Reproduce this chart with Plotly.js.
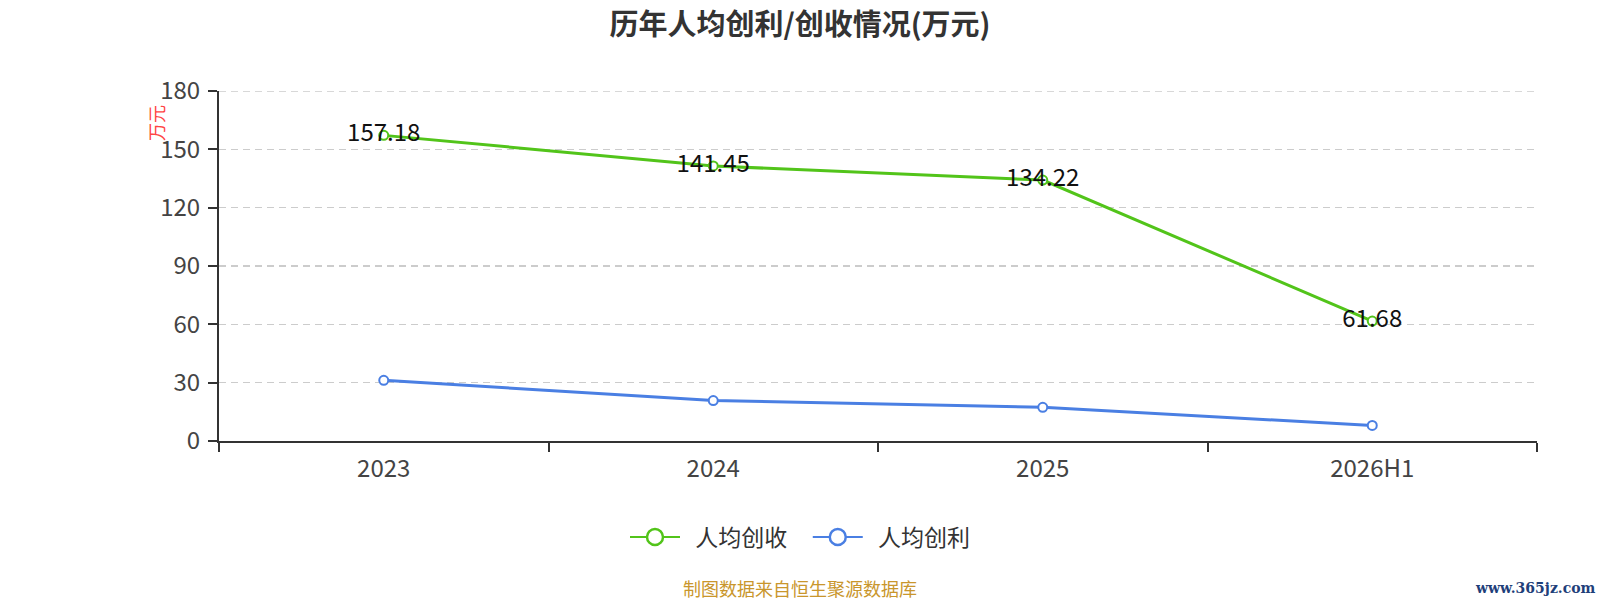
<!DOCTYPE html>
<html>
<head>
<meta charset="utf-8">
<script src="https://cdn.plot.ly/plotly-3.0.1.min.js"></script>
<style>html,body{margin:0;padding:0;background:#fff;}#chart{width:1600px;height:600px;}</style>
</head>
<body>
<div id="chart"></div>
<script>
const categories = ['2023', '2024', '2025', '2026H1'];
const revenuePerCapita = [157.18, 141.45, 134.22, 61.68];
const profitPerCapita = [31.2, 20.8, 17.3, 8.0];
const yTicks = [0, 30, 60, 90, 120, 150, 180];
const seriesNames = ['人均创收', '人均创利'];
const seriesColors = ['#52c41a', '#4a7fe3'];

const FONT = '"Noto Sans CJK SC", "Noto Sans", sans-serif';
const NB = '\u00a0';

const traces = [
  {
    x: categories, y: revenuePerCapita, name: seriesNames[0], type: 'scatter', mode: 'lines+markers+text',
    showlegend: false, legendgroup: 'a',
    line: {color: seriesColors[0], width: 3},
    marker: {symbol: 'circle', size: 9, color: '#ffffff', line: {color: seriesColors[0], width: 2}},
    text: revenuePerCapita.map(v => v.toFixed(2)), textposition: 'middle center',
    textfont: {family: FONT, size: 24, color: '#111111'}, cliponaxis: false
  },
  {
    x: categories, y: profitPerCapita, name: seriesNames[1], type: 'scatter', mode: 'lines+markers',
    showlegend: false, legendgroup: 'b',
    line: {color: seriesColors[1], width: 3},
    marker: {symbol: 'circle', size: 9, color: '#ffffff', line: {color: seriesColors[1], width: 2}},
    cliponaxis: false
  }
];
// legend entries (no visible points)
seriesNames.forEach((n, i) => {
  traces.push({
    x: [null], y: [null], name: NB + NB + n + NB + NB + NB, type: 'scatter', mode: 'lines+markers', showlegend: true,
    legendgroup: i === 0 ? 'a' : 'b',
    line: {color: seriesColors[i], width: 2},
    marker: {symbol: 'circle', size: 19, color: '#ffffff', line: {color: seriesColors[i], width: 2.5}}
  });
});

const layout = {
  width: 1600, height: 600,
  margin: {l: 219, r: 63, t: 91, b: 159},
  paper_bgcolor: '#ffffff', plot_bgcolor: '#ffffff',
  font: {family: FONT, color: '#333333'},
  title: {text: '<b>历年人均创利/创收情况(万元)</b>', x: 0.5, xref: 'container', xanchor: 'center',
          y: 0.958, yref: 'container', yanchor: 'middle',
          font: {family: FONT, size: 29, color: '#333333'}},
  xaxis: {
    type: 'category', range: [-0.5, 3.5], showgrid: false, zeroline: false,
    showline: true, linecolor: '#333333', linewidth: 2,
    ticks: 'outside', tickson: 'boundaries', ticklen: 9, tickwidth: 2, tickcolor: '#333333',
    tickfont: {family: FONT, size: 24, color: '#444444'}, ticklabelstandoff: 5
  },
  yaxis: {
    range: [0, 180], tickvals: yTicks, ticktext: yTicks.map(String),
    showline: true, linecolor: '#333333', linewidth: 2,
    ticks: 'outside', ticklen: 9, tickwidth: 2, tickcolor: '#333333',
    showgrid: true, gridcolor: '#cccccc', griddash: '7px,5px', gridwidth: 1.5, zeroline: false,
    tickfont: {family: FONT, size: 24, color: '#444444'}, ticklabelstandoff: 3
  },
  shapes: [
    {type: 'line', xref: 'paper', yref: 'y', x0: 0, x1: 1, y0: yTicks[yTicks.length - 1], y1: yTicks[yTicks.length - 1],
     line: {color: '#cccccc', width: 1.5, dash: '7px,5px'}, layer: 'below'}
  ],
  showlegend: true,
  legend: {orientation: 'h', xref: 'container', x: 0.505, xanchor: 'center',
           yref: 'container', y: 0.105, yanchor: 'middle', itemwidth: 50, itemsizing: 'trace',
           font: {family: FONT, size: 23, color: '#333333'}},
  annotations: [
    {text: '万元', xref: 'paper', yref: 'paper', x: -0.0478, y: 0.9086, textangle: -90,
     showarrow: false, font: {family: FONT, size: 18, color: '#ff4444'}, xanchor: 'center', yanchor: 'middle'},
    {text: '制图数据来自恒生聚源数据库', xref: 'paper', yref: 'paper', x: 0.4408, y: -0.42,
     showarrow: false, font: {family: FONT, size: 18, color: '#c9962c'}, xanchor: 'center', yanchor: 'middle'},
    {text: '<b>www.365jz.com</b>', xref: 'paper', yref: 'paper', x: 1.046, y: -0.42,
     showarrow: false, font: {family: '"DejaVu Serif", serif', size: 14, color: '#1f3f7a'}, xanchor: 'right', yanchor: 'middle'}
  ]
};

Plotly.newPlot('chart', traces, layout, {displayModeBar: false, staticPlot: true});
</script>
</body>
</html>
